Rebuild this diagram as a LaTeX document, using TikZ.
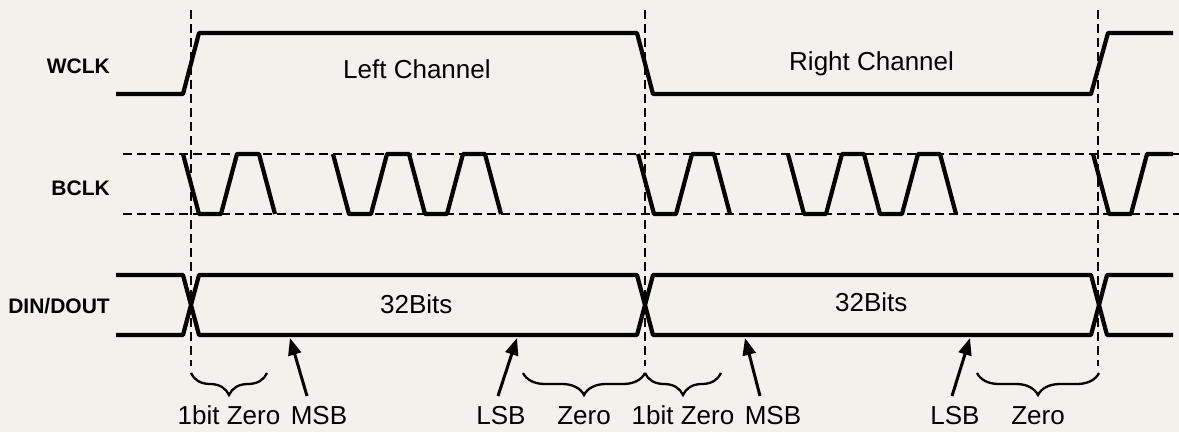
\documentclass[tikz,border=0pt]{standalone}
\usepackage{fontspec}
\setmainfont{Liberation Sans}
\usetikzlibrary{arrows.meta,decorations.pathreplacing}
\definecolor{paper}{RGB}{243,241,236}
\begin{document}
\begin{tikzpicture}[x=1pt,y=-1pt,
  wave/.style={line width=4.2pt,line join=round},
  guide/.style={line width=2.2pt,dash pattern=on 9pt off 5pt},
  ptr/.style={line width=3pt,-{Triangle[length=17pt,width=13pt]}},
  brc/.style={line width=2.3pt,decorate,decoration={brace,mirror,amplitude=22pt}},
  sig/.style={font=\bfseries\fontsize{21}{25}\selectfont,anchor=base east,inner sep=0pt},
  txt/.style={font=\fontsize{26}{30}\selectfont,anchor=base,inner sep=0pt}]
\fill[paper] (0,0) rectangle (1179,432);
\useasboundingbox (0,0) rectangle (1179,432);
% guides
\foreach \gx in {191,645,1098} \draw[guide] (\gx,10) -- (\gx,366);
\draw[guide] (123,154) -- (1179,154);
\draw[guide] (123,214) -- (1179,214);
% labels
\node[sig] (lw) at (110,73) {WCLK};
\node[sig] (lb) at (110,195) {BCLK};
\node[sig] (ld) at (110,313) {DIN/DOUT};
% WCLK
\draw[wave] (116,94) -- (183,94) -- (199,33) -- (637,33) -- (653,94) -- (1091,94) -- (1108,33) -- (1173,33);
% BCLK
\foreach \s in {183,638}
  \draw[wave] (\s,154) -- ++(16,60) -- ++(22,0) -- ++(16,-60) -- ++(22,0) -- ++(16,60);
\foreach \s in {333,788}
  \draw[wave] (\s,154) -- ++(16,60) -- ++(22,0) -- ++(16,-60) -- ++(22,0) -- ++(16,60)
     -- ++(22,0) -- ++(16,-60) -- ++(22,0) -- ++(16,60);
\draw[wave] (1093,154) -- ++(16,60) -- ++(22,0) -- ++(16,-60) -- (1173,154);
% DIN/DOUT
\draw[wave] (116,275) -- (183,275) -- (199,335) -- (637,335) -- (653,275) -- (1091,275) -- (1107,335) -- (1173,335);
\draw[wave] (116,335) -- (183,335) -- (199,275) -- (637,275) -- (653,335) -- (1091,335) -- (1107,275) -- (1173,275);
% texts
\node[txt,anchor=base west] (lc) at (343,78) {Left Channel};
\node[txt,anchor=base west] (rc) at (789,70) {Right Channel};
\node[txt,anchor=base west] (b1) at (380,313) {32Bits};
\node[txt,anchor=base west] (b2) at (835,311) {32Bits};
\node[txt] (z1) at (229,424) {1bit Zero};
\node[txt] (m1) at (319,424) {MSB};
\node[txt] (s1) at (501,424) {LSB};
\node[txt] (e1) at (584,424) {Zero};
\node[txt] (z2) at (683,424) {1bit Zero};
\node[txt] (m2) at (773,424) {MSB};
\node[txt] (s2) at (955,424) {LSB};
\node[txt] (e2) at (1038,424) {Zero};
% arrows
\coordinate (m1t) at (307,396); \coordinate (m1h) at (290,338);
\coordinate (s1t) at (498,396); \coordinate (s1h) at (517,338);
\coordinate (m2t) at (760,396); \coordinate (m2h) at (745,338);
\coordinate (s2t) at (952,396); \coordinate (s2h) at (970,338);
\draw[ptr] (m1t) -- (m1h);
\draw[ptr] (s1t) -- (s1h);
\draw[ptr] (m2t) -- (m2h);
\draw[ptr] (s2t) -- (s2h);
% braces
\draw[brc] (191,373) -- (267,373);
\draw[brc] (523,373) -- (645,373);
\draw[brc] (645,373) -- (721,373);
\draw[brc] (977,373) -- (1099,373);
\end{tikzpicture}
\end{document}
